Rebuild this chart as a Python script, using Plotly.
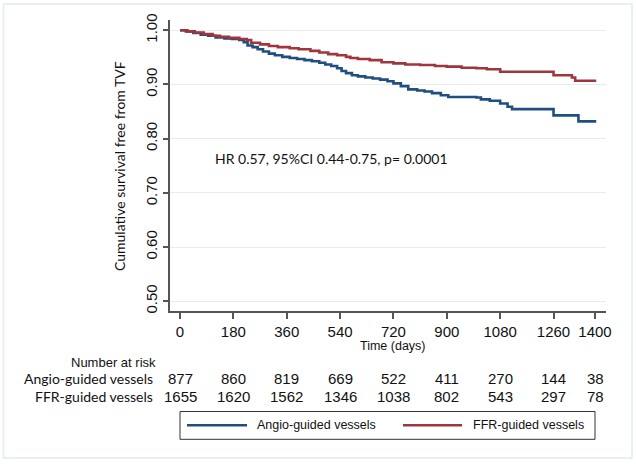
import plotly.graph_objects as go

# ---- data ----
angio_t = [0, 20, 45, 70, 95, 120, 150, 175, 200, 215, 228, 245, 262, 280, 300, 320, 345, 370, 395,
           420, 445, 470, 490, 510, 530, 545, 560, 580, 600, 625, 650, 675, 700, 720, 745, 770, 800,
           825, 850, 880, 905, 1000, 1015, 1045, 1080, 1105, 1120, 1260, 1344, 1404]
angio_s = [1.000, 0.998, 0.995, 0.992, 0.990, 0.987, 0.985, 0.984, 0.982, 0.978, 0.972, 0.969, 0.965,
           0.961, 0.957, 0.954, 0.951, 0.949, 0.947, 0.945, 0.943, 0.940, 0.937, 0.934, 0.930, 0.925,
           0.921, 0.917, 0.915, 0.913, 0.911, 0.909, 0.906, 0.902, 0.897, 0.891, 0.889, 0.887, 0.884,
           0.880, 0.877, 0.876, 0.8725, 0.870, 0.865, 0.859, 0.8545, 0.843, 0.832, 0.832]

ffr_t = [0, 25, 50, 80, 110, 135, 165, 200, 225, 240, 270, 300, 330, 370, 400, 440, 470, 500, 530,
         560, 575, 600, 640, 680, 720, 760, 810, 860, 900, 950, 1000, 1035, 1080, 1260, 1322, 1333, 1404]
ffr_s = [1.000, 0.998, 0.996, 0.993, 0.990, 0.988, 0.986, 0.984, 0.982, 0.977, 0.974, 0.971, 0.969,
         0.967, 0.965, 0.962, 0.959, 0.956, 0.954, 0.951, 0.949, 0.947, 0.945, 0.941, 0.939, 0.937,
         0.936, 0.934, 0.933, 0.931, 0.930, 0.928, 0.9235, 0.917, 0.913, 0.907, 0.907]

x_ticks = [0, 180, 360, 540, 720, 900, 1080, 1260, 1400]
y_ticks = [0.50, 0.60, 0.70, 0.80, 0.90, 1.00]
risk_angio = [877, 860, 819, 669, 522, 411, 270, 144, 38]
risk_ffr = [1655, 1620, 1562, 1346, 1038, 802, 543, 297, 78]
series_names = ["Angio-guided vessels", "FFR-guided vessels"]
hr_text = "HR 0.57, 95%CI 0.44-0.75, p= 0.0001"

BLUE = "#1f4f80"
RED = "#a0363d"
AXIS = "#555555"
GRID = "#e4eef2"
ARIAL = "Liberation Sans, Arial, sans-serif"
CALIBRI = "Lato, Open Sans, sans-serif"

W, H = 636, 465
ML, MR, MT, MB = 170, 30, 20, 154
PW, PH = W - ML - MR, H - MT - MB


def px(p):
    return (p - ML) / PW


def py(p):
    return (H - MB - p) / PH


fig = go.Figure()
fig.add_trace(go.Scatter(x=angio_t, y=angio_s, mode="lines", line_shape="hv",
                         line=dict(color=BLUE, width=2.6), name=series_names[0], showlegend=False))
fig.add_trace(go.Scatter(x=ffr_t, y=ffr_s, mode="lines", line_shape="hv",
                         line=dict(color=RED, width=2.6), name=series_names[1], showlegend=False))

ann = []
shapes = []
# HR text
ann.append(dict(x=px(213), y=py(158), xref="paper", yref="paper", text=hr_text, showarrow=False,
                xanchor="left", yanchor="middle", font=dict(family=CALIBRI, size=14, color="#111")))
# y title
ann.append(dict(x=px(119), y=py(166), xref="paper", yref="paper", text="Cumulative survival free from TVF",
                showarrow=False, textangle=-90, xanchor="center", yanchor="middle",
                font=dict(family=CALIBRI, size=14, color="#111")))
# x title
ann.append(dict(x=px(393), y=py(346), xref="paper", yref="paper", text="Time (days)", showarrow=False,
                xanchor="center", yanchor="middle", font=dict(family=ARIAL, size=12.5, color="#111")))
# risk table
ann.append(dict(x=px(158), y=py(362), xref="paper", yref="paper", text="Number at risk", showarrow=False,
                xanchor="right", yanchor="middle", font=dict(family=ARIAL, size=13, color="#111")))
for name, vals, yy in [(series_names[0], risk_angio, 378), (series_names[1], risk_ffr, 396.5)]:
    ann.append(dict(x=px(155), y=py(yy), xref="paper", yref="paper", text=name, showarrow=False,
                    xanchor="right", yanchor="middle", font=dict(family=CALIBRI, size=14, color="#111")))
    for t, v in zip(x_ticks, vals):
        ann.append(dict(x=t, y=py(yy), xref="x", yref="paper", text=str(v), showarrow=False,
                        xanchor="center", yanchor="middle", font=dict(family=ARIAL, size=15, color="#111")))

# legend (manual box)
shapes.append(dict(type="rect", xref="paper", yref="paper", x0=px(180), x1=px(595), y0=py(439.3), y1=py(411.5),
                   line=dict(color="#333", width=1), fillcolor="white"))
shapes.append(dict(type="line", xref="paper", yref="paper", x0=px(187), x1=px(247), y0=py(425.3), y1=py(425.3),
                   line=dict(color=BLUE, width=2.6)))
shapes.append(dict(type="line", xref="paper", yref="paper", x0=px(403), x1=px(462), y0=py(425.3), y1=py(425.3),
                   line=dict(color=RED, width=2.6)))
ann.append(dict(x=px(255), y=py(425.3), xref="paper", yref="paper", text=series_names[0], showarrow=False,
                xanchor="left", yanchor="middle", font=dict(family=ARIAL, size=12.5, color="#111")))
ann.append(dict(x=px(471), y=py(425.3), xref="paper", yref="paper", text=series_names[1], showarrow=False,
                xanchor="left", yanchor="middle", font=dict(family=ARIAL, size=12.5, color="#111")))
# outer frame
shapes.append(dict(type="rect", xref="paper", yref="paper", x0=px(3.5), x1=px(632), y0=py(458), y1=py(4),
                   line=dict(color="#e2ecf0", width=1.5), layer="below"))

fig.update_layout(
    width=W, height=H, margin=dict(l=ML, r=MR, t=MT, b=MB, pad=0),
    paper_bgcolor="white", plot_bgcolor="white",
    annotations=ann, shapes=shapes, showlegend=False,
    xaxis=dict(range=[-33.75, 1437], tickvals=x_ticks, ticktext=[str(t) for t in x_ticks],
               showgrid=False, zeroline=False, showline=True, linecolor=AXIS, linewidth=1.5,
               ticks="outside", ticklen=6, tickwidth=1.5, tickcolor=AXIS, automargin=False,
               tickfont=dict(family=ARIAL, size=15, color="#111")),
    yaxis=dict(range=[0.482, 1.019], tickvals=y_ticks, ticktext=["%.2f" % v for v in y_ticks],
               showgrid=True, gridcolor=GRID, gridwidth=1, zeroline=False, showline=True,
               linecolor=AXIS, linewidth=1.5, ticks="outside", ticklen=5, tickwidth=1.5, tickcolor=AXIS,
               tickangle=-90, automargin=False, tickfont=dict(family=ARIAL, size=15, color="#111")),
)

fig.write_html("out.html", config={"displayModeBar": False},
               post_script="document.body.style.margin='0';document.body.style.overflow='hidden';")
